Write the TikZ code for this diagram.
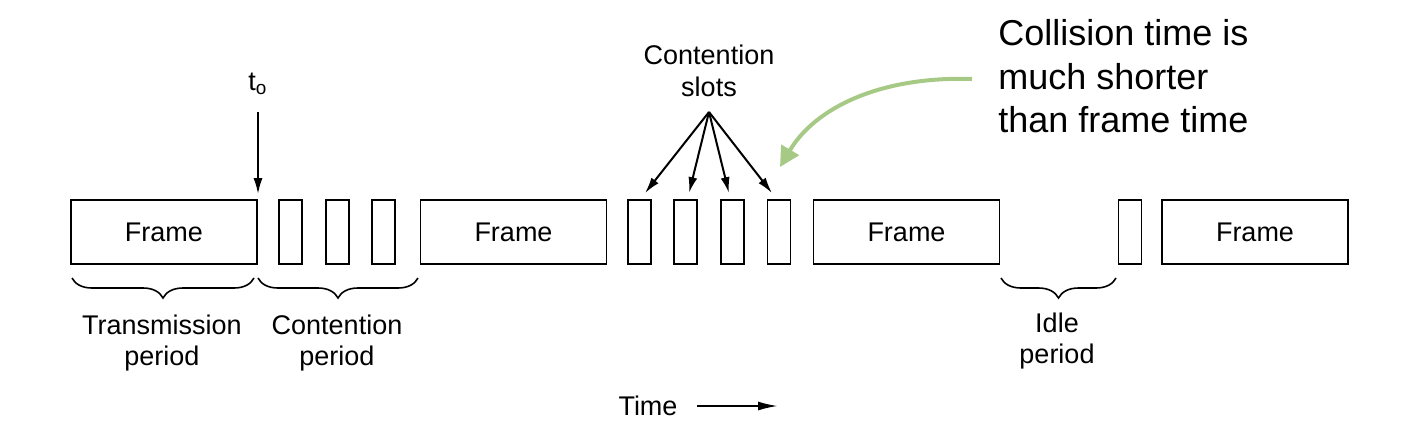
\documentclass[tikz,border=0pt]{standalone}
\usepackage{fontspec}
\setmainfont{Liberation Sans}
\usetikzlibrary{arrows.meta,positioning,calc,decorations.pathreplacing}
\definecolor{callgreen}{RGB}{166,202,134}
\tikzstyle{arrow} = [line width=1pt,-{Latex[length=8pt,width=4.5pt]}]
\tikzstyle{framebox} = [rectangle, draw, line width=0.9pt, minimum width=93pt, minimum height=32pt, inner sep=0pt, font=\fontsize{13.5}{15}\selectfont]
\tikzstyle{slotbox} = [rectangle, draw, line width=0.9pt, minimum width=11.5pt, minimum height=32pt, inner sep=0pt]
\tikzstyle{brace} = [decorate, decoration={brace, amplitude=10pt, mirror}, line width=0.8pt]
\tikzstyle{lbl} = [align=center, inner sep=0pt, font=\fontsize{13.5}{15.5}\selectfont]

\begin{document}
\begin{tikzpicture}[x=0.5pt, y=-0.5pt]
    \useasboundingbox (0,0) rectangle (1426,436);

    % Frames
    \node[framebox] (f1) at (164,232) {Frame};
    \node[framebox] (f2) at (513.5,232) {Frame};
    \node[framebox] (f3) at (906.5,232) {Frame};
    \node[framebox] (f4) at (1255,232) {Frame};

    % Contention slots
    \node[slotbox] (s1) at (290.5,232) {};
    \node[slotbox] (s2) at (337.5,232) {};
    \node[slotbox] (s3) at (383.5,232) {};
    \node[slotbox] (s4) at (639.5,232) {};
    \node[slotbox] (s5) at (685.5,232) {};
    \node[slotbox] (s6) at (732.5,232) {};
    \node[slotbox] (s7) at (779,232) {};
    \node[slotbox] (s8) at (1130,232) {};

    % t_o
    \node[lbl] (to) at (258,84) {t\textsubscript{o}};
    \coordinate (totop) at (258,112);
    \draw[arrow] (totop) -- ([yshift=2.5pt]totop |- f1.north);

    % Contention slots label
    \node[lbl, font=\fontsize{13.5}{16}\selectfont] (cslbl) at (709,71) {Contention\\slots};
    \coordinate (cs) at (709,112);
    \draw[arrow] (cs) -- ([xshift=2.75pt,yshift=3pt]s4.north);
    \draw[arrow] (cs) -- ([xshift=1.75pt,yshift=3pt]s5.north);
    \draw[arrow] (cs) -- ([xshift=-1.75pt,yshift=3pt]s6.north);
    \draw[arrow] (cs) -- ([xshift=-3.5pt,yshift=3pt]s7.north);

    % Callout
    \node[anchor=west, align=left, inner sep=0pt, font=\fontsize{18}{21.75}\selectfont] (callout) at (998,76.5) {Collision time is\\much shorter\\than frame time};
    \coordinate (callstart) at (972,79);
    \coordinate (calltip) at (780,167);
    \draw[callgreen, line width=2pt, -{Triangle[length=10pt,width=10pt]}] (callstart) .. controls (880,76) and (815,108) .. (calltip);

    % Braces
    \draw[brace] (72,278) -- (254,278);
    \draw[brace] (258,278) -- (418,278);
    \draw[brace] (1001,278) -- (1116,278);
    \node[lbl] (trans) at (162,343) {Transmission\\period};
    \node[lbl] (cont) at (337,343) {Contention\\period};
    \node[lbl] (idle) at (1057,341) {Idle\\period};

    % Time
    \node[lbl] (time) at (648,406) {Time};
    \coordinate (timeend) at (778,406);
    \draw[line width=1pt, -{Latex[length=10pt,width=4.5pt]}] ([xshift=9.5pt]time.east) -- (timeend);
\end{tikzpicture}
\end{document}
